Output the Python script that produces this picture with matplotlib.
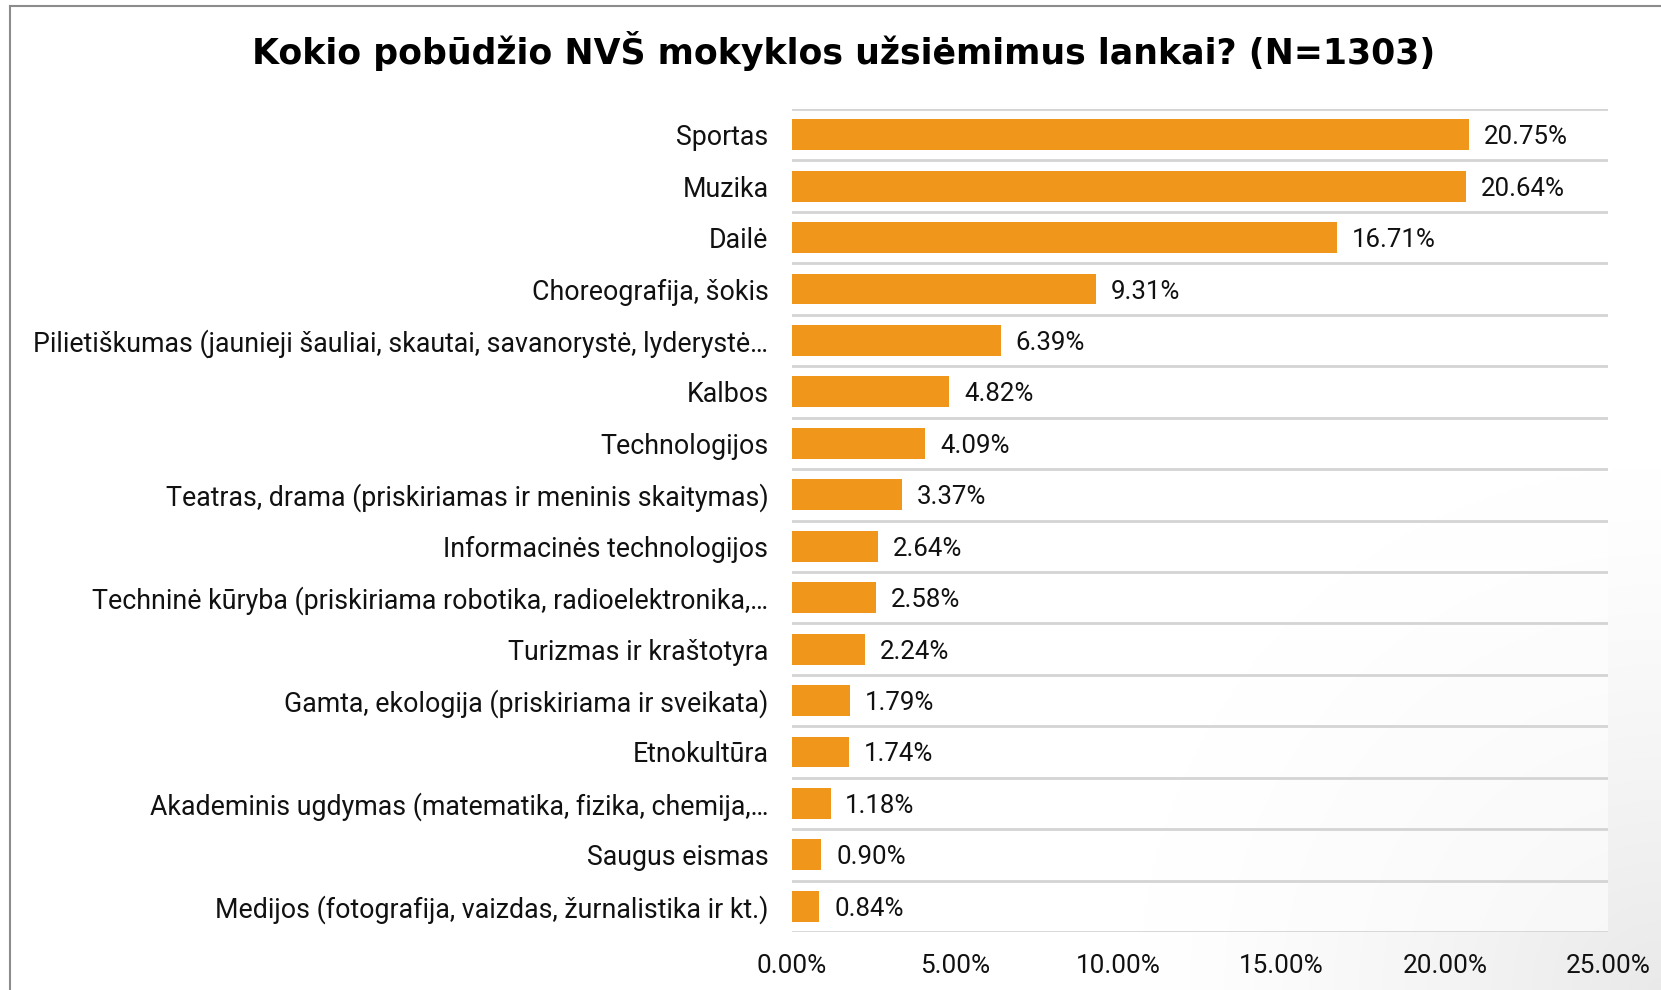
import matplotlib
matplotlib.use("Agg")
import matplotlib.pyplot as plt
import numpy as np
from matplotlib.lines import Line2D
from matplotlib.ticker import FuncFormatter, MultipleLocator

categories = [
    "Sportas",
    "Muzika",
    "Dailė",
    "Choreografija, šokis",
    "Pilietiškumas (jaunieji šauliai, skautai, savanorystė, lyderystė…",
    "Kalbos",
    "Technologijos",
    "Teatras, drama (priskiriamas ir meninis skaitymas)",
    "Informacinės technologijos",
    "Techninė kūryba (priskiriama robotika, radioelektronika,…",
    "Turizmas ir kraštotyra",
    "Gamta, ekologija (priskiriama ir sveikata)",
    "Etnokultūra",
    "Akademinis ugdymas (matematika, fizika, chemija,…",
    "Saugus eismas",
    "Medijos (fotografija, vaizdas, žurnalistika ir kt.)",
]
values = [20.75, 20.64, 16.71, 9.31, 6.39, 4.82, 4.09, 3.37, 2.64, 2.58,
          2.24, 1.79, 1.74, 1.18, 0.90, 0.84]
title = "Kokio pobūdžio NVŠ mokyklos užsiėmimus lankai? (N=1303)"

bar_color = "#F0961B"
font = ["Roboto", "DejaVu Sans"]

W, H = 1661, 990
fig = plt.figure(figsize=(W / 100, H / 100), dpi=100)
fig.patch.set_facecolor("white")

# subtle background shading toward the bottom-right corner
bg = fig.add_axes([0, 0, 1, 1], zorder=-10)
bg.set_axis_off()
yy, xx = np.mgrid[0:H:4, 0:W:4]
d = np.sqrt((xx - W) ** 2 + (yy - H) ** 2)
shade = 1 - 0.085 * np.clip(1 - d / 520, 0, 1) ** 1.3
bg.imshow(np.dstack([shade] * 3), extent=[0, 1, 0, 1], aspect="auto",
          interpolation="bilinear")
bg.set_xlim(0, 1)
bg.set_ylim(0, 1)

left, right = 792, 1608
top, bottom = 109, 932
ax = fig.add_axes([left / W, 1 - bottom / H, (right - left) / W, (bottom - top) / H])
ax.set_facecolor((1, 1, 1, 0.6))

n = len(categories)
ypos = list(range(n))
ax.barh(ypos, values, height=0.6, color=bar_color, zorder=3)
ax.set_ylim(n - 0.5, -0.5)
ax.set_xlim(0, 25)

for b in [i - 0.5 for i in range(n + 1)]:
    ax.axhline(b, color="#D4D4D4", lw=2, zorder=1)

for s in ax.spines.values():
    s.set_visible(False)

ax.set_yticks(ypos)
ax.set_yticklabels(categories, fontsize=19.3, family=font, color="#111111")
for t in ax.get_yticklabels():
    t.set_verticalalignment("center_baseline")
ax.tick_params(axis="y", length=0, pad=17)
ax.xaxis.set_major_locator(MultipleLocator(5))
ax.xaxis.set_major_formatter(FuncFormatter(lambda v, p: f"{v:.2f}%"))
ax.tick_params(axis="x", length=0, pad=16, labelsize=18.8)
for t in ax.get_xticklabels():
    t.set_family(font)
    t.set_color("#111111")

for y, v in zip(ypos, values):
    ax.text(v + 0.45, y, f"{v:.2f}%", va="center_baseline", ha="left", fontsize=18.6,
            family=font, color="#111111")

fig.text(844 / W, 1 - 51 / H, title, ha="center", va="center", fontsize=25,
         fontweight="bold", family=["DejaVu Sans"], color="black")

fig.add_artist(Line2D([10 / W, 10 / W], [0, 1 - 6 / H], color="#8C8C8C", lw=1.5,
                      transform=fig.transFigure))
fig.add_artist(Line2D([10 / W, 1], [1 - 6 / H, 1 - 6 / H], color="#8C8C8C", lw=1.5,
                      transform=fig.transFigure))

fig.savefig("out.png", dpi=100)
